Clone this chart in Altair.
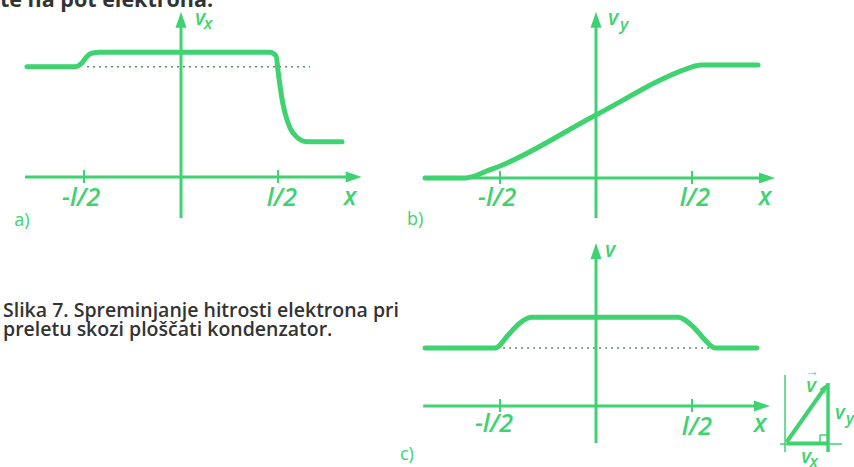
import altair as alt
import pandas as pd

GREEN = "#3fd271"
DOTTED = "#5c8c6c"
INK = "#333333"
MATH_FONT = "Open Sans"
TEXT_FONT = "Open Sans"

# x is measured in units of l/2, velocities in arbitrary units

# a) horizontal component v_x
a_x = [-1.588, -1.093, -1.024, -0.972, -0.921, -0.835, 0.918, 0.98, 1.003,
       1.038, 1.072, 1.124, 1.193, 1.296, 1.66]
a_v = [1.103, 1.103, 1.137, 1.203, 1.237, 1.247, 1.247, 1.21, 1.04,
       0.80, 0.64, 0.49, 0.40, 0.353, 0.353]
a_ref = 1.103
a_ref_span = [-0.969, 1.33]

# b) vertical component v_y
b_x = [-1.781, -1.385, -1.243, -1.139, -1.0, 0.0, 0.958, 1.031, 1.104, 1.6875]
b_v = [0.0, 0.0, 0.027, 0.07, 0.12, 0.63, 1.097, 1.12, 1.13, 1.13]

# c) magnitude of the velocity
c_x = [-1.781, -1.052, -1.0, -0.93, -0.792, -0.719, -0.67, 0.857, 0.927,
       1.01, 1.153, 1.198, 1.24, 1.677]
c_v = [0.58, 0.58, 0.61, 0.693, 0.83, 0.875, 0.887, 0.887, 0.86,
       0.793, 0.643, 0.60, 0.58, 0.58]
c_ref = 0.58
c_ref_span = [-1.03, 1.22]

tick_x = [-1, 1]
tick_text = ["-l/2", "l/2"]

caption_lines = ["Slika 7. Spreminjanje hitrosti elektrona pri",
                 "preletu skozi ploščati kondenzator."]
running_head = "te na pot elektrona."

UP = "M0,0L-0.6875,2L0.6875,2Z"
RIGHT = "M0,0L-2,-0.6875L-2,0.6875Z"


def panel(width, height, x_px, y_px, curve, segs, heads, math, plain,
          ref=None, head_text=None):
    xs = alt.Scale(domain=[-1, 1], range=x_px, nice=False, zero=False)
    ys = alt.Scale(domain=[0, 1], range=y_px, nice=False, zero=False)

    def X(f):
        return alt.X(f"{f}:Q", scale=xs, axis=None)

    def Y(f):
        return alt.Y(f"{f}:Q", scale=ys, axis=None)

    layers = []
    if ref is not None:
        level, span = ref
        layers.append(
            alt.Chart(pd.DataFrame({"x0": [span[0]], "x1": [span[1]], "y": [level]}))
            .mark_rule(color=DOTTED, strokeWidth=1.6, strokeDash=[2, 4])
            .encode(x=X("x0"), x2="x1:Q", y=Y("y"))
        )
    seg_df = pd.DataFrame(segs, columns=["x0", "y0", "x1", "y1", "w"])
    layers.append(
        alt.Chart(seg_df)
        .mark_rule(color=GREEN, strokeCap="butt")
        .encode(x=X("x0"), y=Y("y0"), x2="x1:Q", y2="y1:Q",
                strokeWidth=alt.StrokeWidth("w:Q", scale=None))
    )
    cx, cv = curve
    layers.append(
        alt.Chart(pd.DataFrame({"x": cx, "v": cv}))
        .mark_line(color=GREEN, strokeWidth=5, interpolate="monotone",
                   strokeCap="round", strokeJoin="round")
        .encode(x=X("x"), y=Y("v"))
    )
    head_df = pd.DataFrame(heads, columns=["x", "y", "path", "s", "a"])
    layers.append(
        alt.Chart(head_df)
        .mark_point(filled=True, color=GREEN, opacity=1, strokeWidth=0)
        .encode(x=X("x"), y=Y("y"),
                shape=alt.Shape("path:N", scale=None),
                size=alt.Size("s:Q", scale=None),
                angle=alt.Angle("a:Q", scale=None))
    )
    math_df = pd.DataFrame(math, columns=["x", "y", "text", "fs"])
    layers.append(
        alt.Chart(math_df)
        .mark_text(font=MATH_FONT, fontStyle="italic", fontWeight=600, color=GREEN,
                   align="center", baseline="middle", clip=True)
        .encode(x=X("x"), y=Y("y"), text="text:N",
                size=alt.Size("fs:Q", scale=None))
    )
    plain_df = pd.DataFrame(plain, columns=["x", "y", "text"])
    layers.append(
        alt.Chart(plain_df)
        .mark_text(font=TEXT_FONT, color=GREEN, fontSize=18,
                   align="center", baseline="middle", clip=True)
        .encode(x=X("x"), y=Y("y"), text="text:N")
    )
    if head_text is not None:
        layers.append(
            alt.Chart(pd.DataFrame([head_text], columns=["x", "y", "text"]))
            .mark_text(font=TEXT_FONT, fontWeight="bold", color=INK, fontSize=21.5,
                       align="left", baseline="alphabetic", clip=True)
            .encode(x=X("x"), y=Y("y"), text="text:N")
        )
    return alt.layer(*layers).properties(width=width, height=height)


def tick_segs():
    return [(t, -0.06, t, 0.07, 2) for t in tick_x]


# panel a)
panel_a = panel(
    400, 232, [84, 278], [177, 77], (a_x, a_v),
    segs=[(-1.608, 0, 1.80, 0, 3), (0, -0.41, 0, 1.60, 3)] + tick_segs(),
    heads=[(1.863, 0, RIGHT, 256, 0), (0, 1.653, UP, 256, 0)],
    math=[(-1.03, -0.21, tick_text[0], 25), (1.04, -0.21, tick_text[1], 25),
          (1.742, -0.20, "x", 25), (0.196, 1.58, "v", 21), (0.278, 1.53, "x", 17)],
    plain=[(-1.64, -0.44, "a)")],
    ref=(a_ref, a_ref_span),
    head_text=(-1.866, 1.70, running_head),
)

# panel b)
panel_b = panel(
    454, 232, [100, 292], [178, 78], (b_x, b_v),
    segs=[(-1.781, 0, 1.80, 0, 3), (0, -0.40, 0, 1.60, 3)] + tick_segs(),
    heads=[(1.865, 0, RIGHT, 256, 0), (0, 1.663, UP, 256, 0)],
    math=[(-1.03, -0.20, tick_text[0], 25), (1.03, -0.20, tick_text[1], 25),
          (1.76, -0.19, "x", 25), (0.177, 1.59, "v", 21), (0.292, 1.53, "y", 17)],
    plain=[(-1.885, -0.42, "b)")],
)

# panel c) with the velocity triangle
triangle = [
    (1.969, 0.31, 1.969, -0.46, 1.5),
    (1.917, -0.38, 2.5625, -0.38, 1.5),
    (1.986, -0.375, 2.417, -0.375, 4),
    (2.417, 0.23, 2.417, -0.46, 3.5),
    (1.986, -0.36, 2.39, 0.19, 4),
    (2.333, -0.375, 2.333, -0.29, 1.5),
    (2.333, -0.29, 2.417, -0.29, 1.5),
]
panel_c = panel(
    454, 235, [100, 292], [174, 74], (c_x, c_v),
    segs=[(-1.80, 0, 1.75, 0, 3), (0, -0.37, 0, 1.57, 3)] + tick_segs() + triangle,
    heads=[(1.8125, 0, RIGHT, 256, 0), (0, 1.63, UP, 256, 0),
           (2.417, 0.23, UP, 100, 35.5)],
    math=[(-1.0625, -0.18, tick_text[0], 25), (1.052, -0.21, tick_text[1], 25),
          (1.708, -0.18, "x", 25), (0.146, 1.55, "v", 21),
          (2.24, 0.20, "v", 20), (2.25, 0.34, "\u2192", 13),
          (2.54, -0.07, "v", 20), (2.646, -0.13, "y", 16),
          (2.188, -0.51, "v", 20), (2.27, -0.56, "x", 16)],
    plain=[(-1.97, -0.49, "c)")],
    ref=(c_ref, c_ref_span),
)

caption = (
    alt.Chart(pd.DataFrame({"row": [0, 1], "text": caption_lines}))
    .mark_text(align="left", baseline="alphabetic", font=TEXT_FONT,
               fontWeight=600, fontSize=19.5, color=INK)
    .encode(x=alt.value(3),
            y=alt.Y("row:Q", scale=alt.Scale(domain=[0, 1], range=[85, 104],
                                             nice=False, zero=False), axis=None),
            text="text:N")
    .properties(width=400, height=235)
)

chart = (
    alt.concat(panel_a, panel_b, caption, panel_c, columns=2,
               spacing=0, bounds="flush")
    .properties(padding=0, background="white")
    .configure_view(stroke=None)
)

chart.save("out.html", embed_options={"renderer": "svg", "actions": False})
